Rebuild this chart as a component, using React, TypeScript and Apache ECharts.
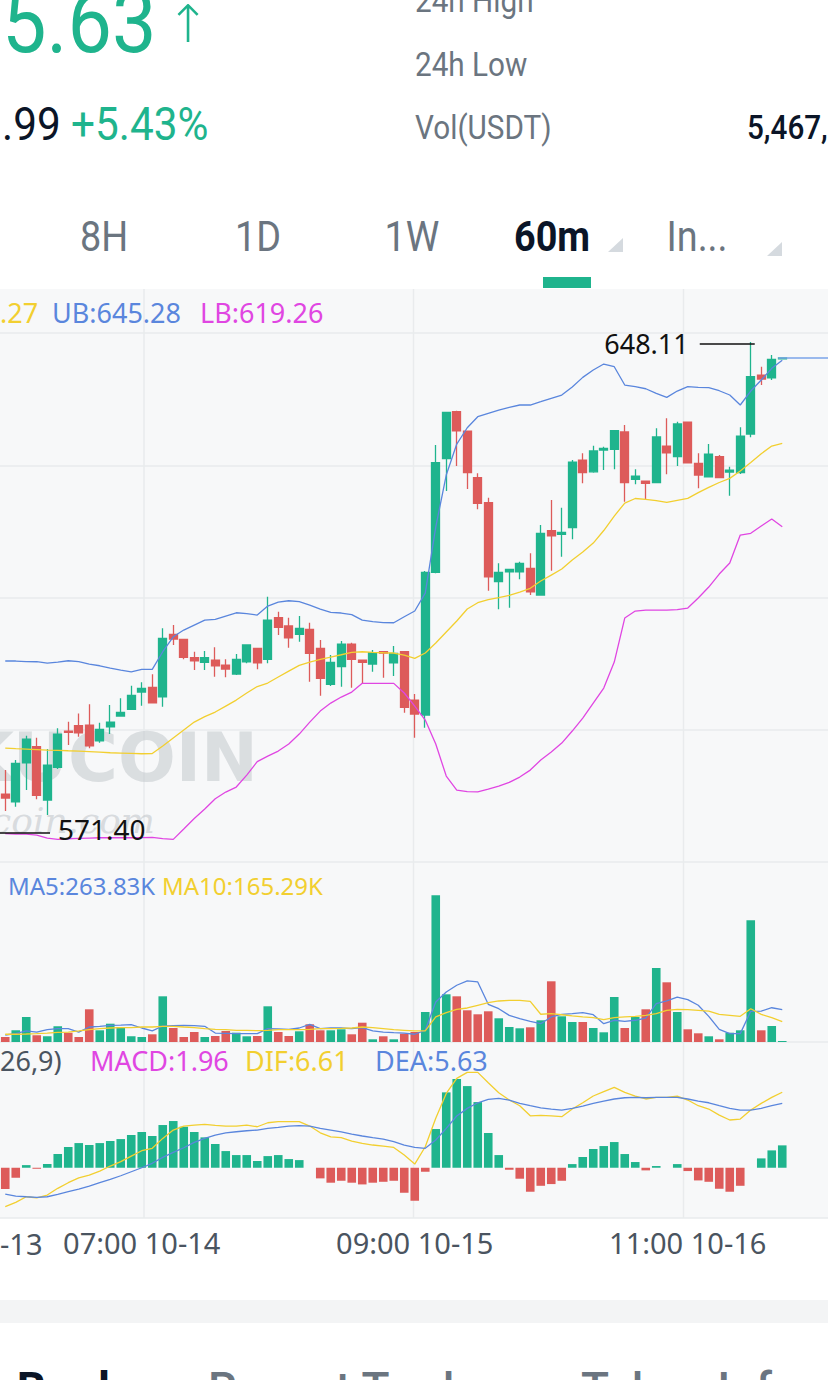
import React, { useEffect, useRef } from "react";
import * as echarts from "echarts";

// ---------- data ----------
const START_HOUR = 18; // first visible candle: 18:00 10-13
const START_DAY = 13;
const SLOT_COUNT = 79; // candle slots across the visible width
const TICK_INDEXES = [13, 39, 65];

const OPEN = [577.49, 576.28, 582.38, 584.88, 576.55, 581.66, 587.33, 588.16, 588.27, 585.81, 588.0, 589.67, 590.72, 593.42, 594.16, 592.69, 602.44, 601.66, 598.78, 598.06, 598.42, 597.64, 596.24, 598.16, 600.25, 598.53, 605.06, 603.74, 602.44, 603.22, 600.25, 594.63, 597.38, 600.92, 598.42, 597.8, 599.72, 598.0, 599.72, 592.17, 589.83, 612.13, 629.91, 637.22, 634.2, 626.91, 623.0, 610.66, 612.22, 612.22, 612.75, 608.58, 618.63, 618.06, 619.13, 629.67, 627.83, 631.24, 631.34, 634.05, 626.66, 626.39, 626.13, 631.86, 630.19, 635.61, 629.16, 627.06, 630.19, 627.8, 627.69, 633.74, 642.95, 642.53, 645.5];
const CLOSE = [576.86, 582.28, 586.08, 577.28, 582.02, 586.86, 587.13, 587.06, 585.03, 587.59, 588.73, 590.25, 592.91, 594.0, 591.75, 601.81, 601.7, 598.84, 598.31, 598.78, 597.53, 597.02, 598.53, 600.77, 598.0, 604.67, 603.53, 601.91, 603.38, 599.47, 595.56, 598.06, 600.92, 598.53, 598.06, 599.56, 599.52, 599.47, 591.03, 589.99, 612.13, 629.25, 637.13, 634.25, 627.69, 622.91, 611.44, 612.13, 612.59, 613.53, 609.09, 618.22, 617.84, 618.38, 629.36, 627.69, 631.08, 631.5, 634.25, 626.13, 627.17, 626.03, 633.27, 630.81, 635.3, 629.25, 627.33, 630.61, 626.91, 628.1, 633.42, 642.69, 642.33, 645.4, 645.63];
const LOW = [574.83, 575.5, 578.11, 576.66, 574.2, 581.39, 585.14, 586.44, 584.63, 585.5, 586.86, 589.56, 590.61, 591.28, 591.75, 591.13, 600.77, 598.53, 596.86, 596.86, 595.81, 595.72, 596.08, 597.91, 596.97, 597.91, 602.33, 600.34, 601.28, 595.03, 592.84, 594.36, 594.25, 594.09, 594.78, 596.59, 595.66, 595.92, 590.19, 586.28, 587.84, 611.97, 624.83, 628.74, 625.14, 621.97, 609.25, 606.34, 606.59, 611.03, 608.58, 608.58, 612.38, 614.56, 617.28, 626.03, 627.69, 628.11, 628.22, 623.16, 625.88, 623.53, 626.13, 627.44, 628.74, 629.25, 625.25, 627.06, 626.91, 624.09, 627.49, 633.22, 641.39, 642.17, 645.45];
const HIGH = [581.24, 582.8, 586.59, 586.28, 584.52, 587.75, 588.78, 590.09, 591.5, 588.63, 591.39, 592.44, 594.41, 594.94, 596.19, 603.38, 603.89, 601.66, 599.72, 599.83, 600.41, 598.53, 599.36, 600.77, 600.25, 608.31, 605.97, 605.03, 605.3, 604.25, 601.55, 599.2, 601.39, 601.13, 598.42, 599.99, 599.72, 600.61, 599.83, 593.11, 612.33, 632.02, 637.13, 637.38, 634.2, 627.59, 623.78, 613.53, 612.59, 613.78, 615.09, 619.52, 623.42, 622.22, 629.67, 630.72, 631.91, 631.75, 634.36, 635.14, 628.22, 626.39, 634.63, 636.19, 635.66, 635.61, 630.72, 632.17, 630.45, 628.63, 634.78, 648.11, 644.25, 646.08, 645.7];

const BOLL_UB = [598.27, 598.27, 598.19, 598.16, 597.95, 598.11, 598.31, 598.19, 597.8, 597.53, 597.17, 596.86, 596.59, 596.97, 596.97, 599.72, 602.06, 603.11, 603.89, 604.67, 604.78, 605.3, 605.81, 605.69, 605.45, 606.86, 607.48, 607.69, 607.56, 607.02, 606.39, 605.88, 605.77, 605.53, 604.67, 604.44, 604.28, 604.25, 605.19, 606.08, 608.89, 619.2, 627.33, 632.17, 634.72, 636.44, 636.97, 637.48, 637.91, 638.27, 638.27, 638.78, 639.31, 639.83, 641.08, 642.59, 643.74, 644.67, 644.25, 641.39, 641.13, 640.81, 640.09, 639.47, 640.45, 641.13, 641.03, 640.97, 640.5, 639.83, 638.27, 640.45, 642.17, 644.0, 645.28];
const BOLL_MB = [584.67, 584.59, 584.52, 584.44, 584.36, 584.31, 584.25, 584.2, 584.13, 584.05, 583.94, 583.89, 583.84, 583.78, 583.81, 584.98, 586.23, 587.48, 588.73, 589.59, 590.3, 591.23, 592.17, 593.27, 594.28, 594.83, 595.77, 596.7, 597.59, 598.11, 598.53, 598.89, 599.25, 599.63, 599.72, 599.63, 599.56, 599.52, 599.2, 598.69, 599.52, 601.08, 602.8, 604.52, 606.39, 607.38, 607.88, 608.19, 608.53, 609.05, 609.63, 610.77, 611.7, 612.64, 614.05, 615.3, 616.7, 618.66, 620.92, 622.95, 623.66, 623.53, 623.34, 623.06, 623.38, 623.69, 624.59, 625.41, 626.16, 626.81, 627.95, 629.28, 630.66, 631.86, 632.27];
const BOLL_LB = [571.31, 571.23, 571.23, 571.08, 570.61, 570.41, 570.5, 570.56, 570.61, 570.66, 570.66, 570.66, 570.66, 570.69, 570.72, 570.53, 570.41, 572.02, 573.66, 575.14, 576.75, 577.8, 578.58, 580.45, 582.56, 583.42, 584.2, 585.3, 586.86, 588.73, 590.45, 591.7, 592.64, 593.42, 594.78, 594.78, 594.78, 594.78, 593.27, 591.23, 589.05, 585.3, 580.3, 578.11, 577.88, 577.84, 578.27, 578.73, 579.31, 580.14, 581.23, 582.8, 584.05, 585.45, 587.33, 589.36, 591.7, 594.05, 598.11, 604.98, 606.08, 606.23, 606.23, 606.23, 606.31, 606.55, 608.11, 609.83, 611.86, 613.58, 617.95, 618.22, 619.36, 620.45, 619.26];

// volume in thousands (K)
const VOLUME_K = [40.7, 95.3, 203.6, 54.6, 46.4, 127.8, 75.7, 40.7, 266.3, 95.3, 149.0, 122.1, 46.4, 40.7, 62.7, 372.1, 114.0, 40.7, 81.4, 40.7, 48.9, 89.6, 75.7, 46.4, 48.9, 290.7, 81.4, 48.9, 87.1, 144.1, 95.3, 95.3, 103.4, 62.7, 157.2, 22.0, 46.4, 22.0, 67.6, 81.4, 244.3, 1194.6, 388.4, 372.1, 258.1, 225.6, 250.0, 193.0, 122.1, 111.6, 119.7, 176.7, 494.3, 209.3, 162.9, 162.9, 114.0, 79.0, 366.4, 114.0, 203.6, 266.3, 602.6, 486.1, 244.3, 103.4, 70.8, 46.4, 22.0, 75.7, 95.3, 991.0, 95.3, 130.3, 8.1];
const VOL_MA5 = [57, 68, 90, 81, 100, 109, 109, 81, 122, 128, 136, 138, 141, 114, 90, 130, 133, 136, 133, 128, 73, 71, 68, 68, 68, 109, 106, 103, 114, 144, 109, 114, 114, 109, 117, 90, 81, 76, 73, 63, 95, 326, 407, 462, 497, 489, 307, 271, 217, 190, 168, 149, 204, 225, 231, 239, 222, 149, 177, 168, 177, 195, 312, 334, 366, 345, 299, 209, 103, 68, 68, 250, 252, 279, 263.83];
const VOL_MA10 = [63, 63, 65, 68, 73, 79, 81, 90, 100, 109, 114, 117, 117, 122, 122, 128, 128, 122, 117, 109, 103, 100, 95, 95, 92, 95, 100, 100, 100, 103, 109, 109, 111, 114, 122, 117, 109, 100, 95, 90, 90, 204, 239, 266, 277, 299, 320, 334, 339, 339, 331, 226, 231, 222, 212, 204, 198, 182, 198, 204, 209, 217, 231, 258, 266, 263, 258, 252, 225, 217, 209, 271, 225, 198, 165.29];

const MACD_HIST = [-1.87, -0.88, 0.23, -0.09, 0.32, 1.2, 1.81, 2.16, 1.99, 2.16, 2.34, 2.51, 2.86, 3.13, 2.78, 3.74, 4.09, 3.59, 3.13, 2.66, 2.08, 1.46, 1.11, 1.11, 0.58, 1.02, 1.11, 0.76, 0.67, 0, -0.93, -1.31, -1.14, -1.31, -1.46, -1.31, -1.23, -1.14, -2.19, -2.89, -0.35, 3.39, 6.6, 7.77, 7.15, 5.75, 3.04, 1.11, -0.18, -0.96, -2.1, -1.58, -1.43, -1.14, 0.32, 0.94, 1.64, 1.9, 2.25, 1.2, 0.5, -0.23, 0.15, 0, 0.32, -0.29, -1.11, -1.23, -1.84, -2.1, -1.58, 0, 0.82, 1.52, 1.96];
const DIF = [-3.41, -3.03, -2.54, -2.63, -2.39, -1.8, -1.31, -0.88, -0.64, -0.29, 0.15, 0.53, 1.02, 1.49, 1.7, 2.57, 3.3, 3.65, 3.74, 3.8, 3.71, 3.65, 3.65, 3.74, 3.59, 3.94, 4.03, 4.03, 4.03, 3.65, 3.06, 2.71, 2.63, 2.34, 2.14, 1.99, 1.9, 1.78, 1.11, 0.32, 1.84, 4.33, 6.51, 7.83, 8.35, 8.35, 7.44, 6.57, 5.93, 5.43, 4.55, 4.58, 4.55, 4.47, 5.14, 5.69, 6.28, 6.66, 7.04, 6.6, 6.28, 6.02, 6.16, 6.16, 6.28, 5.93, 5.43, 5.14, 4.61, 4.18, 4.26, 5.05, 5.64, 6.16, 6.61];
const DEA = [-2.3, -2.48, -2.54, -2.59, -2.54, -2.33, -2.1, -1.87, -1.61, -1.31, -1.02, -0.7, -0.35, 0.0, 0.39, 0.91, 1.35, 1.75, 2.22, 2.57, 2.86, 3.06, 3.15, 3.24, 3.3, 3.45, 3.54, 3.65, 3.68, 3.65, 3.45, 3.3, 3.15, 2.95, 2.78, 2.63, 2.51, 2.28, 1.99, 1.78, 1.7, 2.43, 3.45, 4.53, 5.2, 5.69, 5.99, 6.08, 5.93, 5.64, 5.43, 5.25, 5.14, 5.05, 5.2, 5.4, 5.64, 5.84, 6.02, 6.13, 6.16, 6.13, 6.16, 6.16, 6.16, 6.02, 5.84, 5.69, 5.43, 5.2, 5.05, 5.05, 5.2, 5.43, 5.63];

const LOW_MARK = 571.4;
const LAST_PRICE = 645.63;
const PRICE_MIN = 566.87;
const PRICE_MAX = 649.52;
const VOL_MAX_K = 1465.7;
const MACD_MIN = -4.4;
const MACD_MAX = 11.01;

// ---------- styles ----------
const GREEN = "#1fb48d";
const RED = "#dd5b5a";
const BLUE = "#5a86dd";
const YELLOW = "#f2cf30";
const MAGENTA = "#e046e2";
const GRID_LINE = "#e9ebed";
const PLOT_BG = "#f7f8f9";
const DARK = "#0b1527";
const GREY_TXT = "#6b7580";
const CHART_FONT = "'Noto Sans', 'DejaVu Sans', sans-serif";
const HEAD_FONT = "Roboto, 'Noto Sans', sans-serif";

function slotLabel(i: number): string {
  const h = START_HOUR + i;
  const hour = h % 24;
  const day = START_DAY + Math.floor(h / 24);
  return `${String(hour).padStart(2, "0")}:00 10-${String(day).padStart(2, "0")}`;
}
const CATEGORIES = Array.from({ length: SLOT_COUNT }, (_, i) => slotLabel(i));

function txt(t: string, x: number, y: number, font: string, fill: string, align = "left", extra: any = {}) {
  return {
    type: "text",
    x,
    y,
    z: 20,
    silent: true,
    ...extra,
    style: { text: t, font, fill, align, verticalAlign: "middle", textAlign: align, textVerticalAlign: "middle" },
  };
}

export default function App() {
  const ref = useRef<HTMLDivElement>(null);

  useEffect(() => {
    const el = ref.current as HTMLDivElement;
    const chart = echarts.init(el, undefined, { renderer: "svg", width: 828, height: 1380 });

    const candleData = OPEN.map((o, i) => [o, CLOSE[i], LOW[i], HIGH[i]]);
    const volData = VOLUME_K.map((v, i) => ({ value: v, itemStyle: { color: CLOSE[i] >= OPEN[i] ? GREEN : RED } }));
    const macdData = MACD_HIST.map((v) => ({ value: v, itemStyle: { color: v >= 0 ? GREEN : RED } }));

    const gridBase = { left: 0, width: 829.5, containLabel: false, outerBoundsMode: "none" };
    const xAxis = [0, 1, 2].map((gi) => ({
      type: "category",
      gridIndex: gi,
      data: CATEGORIES,
      boundaryGap: true,
      axisLine: { show: false },
      axisTick: { show: false },
      splitLine: { show: false },
      axisLabel:
        gi === 2
          ? {
              show: true,
              interval: (idx: number) => TICK_INDEXES.includes(idx),
              color: "#4a5460",
              fontSize: 29,
              fontFamily: CHART_FONT,
              margin: 24,
              verticalAlign: "middle",
            }
          : { show: false },
    }));
    const splitAxis = (gi: number, max: number) => ({
      type: "value",
      gridIndex: gi,
      min: 0,
      max,
      interval: 1,
      axisLabel: { show: false },
      axisLine: { show: false },
      axisTick: { show: false },
      splitLine: { show: true, lineStyle: { color: GRID_LINE, width: 1.5 } },
    });
    const lineS = (data: number[], color: string, xi: number, yi: number) => ({
      type: "line",
      data,
      xAxisIndex: xi,
      yAxisIndex: yi,
      symbol: "none",
      showSymbol: false,
      lineStyle: { color, width: 1.3 },
      itemStyle: { color },
      silent: true,
      z: 3,
    });

    chart.setOption({
      animation: false,
      backgroundColor: "#ffffff",
      grid: [
        { ...gridBase, top: 333, height: 529 },
        { ...gridBase, top: 862, height: 180 },
        { ...gridBase, top: 1042, height: 176 },
      ],
      xAxis,
      yAxis: [
        { type: "value", gridIndex: 0, min: PRICE_MIN, max: PRICE_MAX, show: false },
        { type: "value", gridIndex: 1, min: 0, max: VOL_MAX_K, show: false },
        { type: "value", gridIndex: 2, min: MACD_MIN, max: MACD_MAX, show: false },
        splitAxis(0, 4),
        splitAxis(2, 1),
      ],
      series: [
        {
          type: "candlestick",
          xAxisIndex: 0,
          yAxisIndex: 0,
          data: candleData,
          barWidth: 8.6,
          silent: true,
          z: 2,
          itemStyle: { color: GREEN, color0: RED, borderColor: GREEN, borderColor0: RED, borderWidth: 1.3 },
        },
        lineS(BOLL_UB, BLUE, 0, 0),
        lineS(BOLL_MB, YELLOW, 0, 0),
        lineS(BOLL_LB, MAGENTA, 0, 0),
        { type: "bar", xAxisIndex: 1, yAxisIndex: 1, data: volData, barWidth: 8.6, silent: true, z: 2 },
        lineS(VOL_MA5, BLUE, 1, 1),
        lineS(VOL_MA10, YELLOW, 1, 1),
        { type: "bar", xAxisIndex: 2, yAxisIndex: 2, data: macdData, barWidth: 8.6, silent: true, z: 2 },
        lineS(DIF, YELLOW, 2, 2),
        lineS(DEA, BLUE, 2, 2),
      ],
    });

    const last = OPEN.length - 1;
    const hiVal = Math.max(...HIGH);
    const hiIdx = HIGH.indexOf(hiVal);
    const hp = chart.convertToPixel({ gridIndex: 0 }, [hiIdx, hiVal]) as number[];
    const lp = chart.convertToPixel({ gridIndex: 0 }, [0, LOW_MARK]) as number[];
    const pp = chart.convertToPixel({ gridIndex: 0 }, [last, LAST_PRICE]) as number[];

    const g: any[] = [];
    // backgrounds
    g.push({ type: "rect", z: -10, silent: true, shape: { x: 0, y: 289, width: 828, height: 929 }, style: { fill: PLOT_BG } });
    g.push({ type: "rect", z: -10, silent: true, shape: { x: 0, y: 1300, width: 828, height: 23 }, style: { fill: "#f3f4f5" } });
    // vertical grid lines
    [144, 413.5, 683.5].forEach((x) =>
      g.push({ type: "line", z: -5, silent: true, shape: { x1: x, y1: 289, x2: x, y2: 1218 }, style: { stroke: GRID_LINE, lineWidth: 1.5 } })
    );
    // watermark
    g.push({
      type: "text", z: 1, silent: true, x: 258, y: 757,
      style: { text: "KUCOIN", font: `bold 68px 'DejaVu Sans'`, fill: "rgba(190,195,200,0.5)", align: "right", verticalAlign: "middle", textAlign: "right", textVerticalAlign: "middle" },
    });
    g.push({
      type: "text", z: 1, silent: true, x: 155, y: 820,
      style: { text: "kucoin.com", font: `italic 36px 'DejaVu Serif'`, fill: "rgba(185,190,196,0.5)", align: "right", verticalAlign: "middle", textAlign: "right", textVerticalAlign: "middle" },
    });

    // header
    g.push(txt("5.63", 2, 22, `400 88px ${HEAD_FONT}`, GREEN, "left", { scaleX: 0.9 }));
    g.push(txt("↑", 188, 24, `300 52px 'DejaVu Sans'`, GREEN, "center"));
    g.push(txt(".99", 2, 124, `400 47px ${HEAD_FONT}`, DARK, "left", { scaleX: 0.9 }));
    g.push(txt("+5.43%", 71, 124, `400 47px ${HEAD_FONT}`, GREEN, "left", { scaleX: 0.9 }));
    g.push(txt("24h High", 415, 1, `400 33px ${HEAD_FONT}`, GREY_TXT, "left", { scaleX: 0.9 }));
    g.push(txt("24h Low", 415, 65, `400 33px ${HEAD_FONT}`, GREY_TXT, "left", { scaleX: 0.9 }));
    g.push(txt("Vol(USDT)", 415, 128, `400 33px ${HEAD_FONT}`, GREY_TXT, "left", { scaleX: 0.9 }));
    g.push(txt("5,467,", 747, 128, `500 33px ${HEAD_FONT}`, DARK, "left", { scaleX: 0.9 }));
    // tabs
    g.push(txt("8H", 104, 237, `400 42px ${HEAD_FONT}`, GREY_TXT, "center", { scaleX: 0.9 }));
    g.push(txt("1D", 258, 237, `400 42px ${HEAD_FONT}`, GREY_TXT, "center", { scaleX: 0.9 }));
    g.push(txt("1W", 412, 237, `400 42px ${HEAD_FONT}`, GREY_TXT, "center", { scaleX: 0.9 }));
    g.push(txt("60m", 552, 237, `700 42px ${HEAD_FONT}`, DARK, "center", { scaleX: 0.9 }));
    g.push(txt("In...", 697, 237, `400 42px ${HEAD_FONT}`, GREY_TXT, "center", { scaleX: 0.9 }));
    g.push({ type: "polygon", z: 5, silent: true, shape: { points: [[623, 238], [623, 252], [608, 252]] }, style: { fill: "#d5dadf" } });
    g.push({ type: "polygon", z: 5, silent: true, shape: { points: [[782, 242], [782, 256], [767, 256]] }, style: { fill: "#d5dadf" } });
    g.push({ type: "rect", z: 5, silent: true, shape: { x: 543, y: 277, width: 48, height: 11 }, style: { fill: GREEN } });

    // indicator legends
    const f27 = `27px ${CHART_FONT}`;
    g.push(txt(BOLL_MB[last].toFixed(2).slice(-3), 0, 312, f27, YELLOW));
    g.push(txt(`UB:${BOLL_UB[last].toFixed(2)}`, 52, 312, f27, BLUE));
    g.push(txt(`LB:${BOLL_LB[last].toFixed(2)}`, 200, 312, f27, MAGENTA));
    const f24 = `24px ${CHART_FONT}`;
    g.push(txt(`MA5:${VOL_MA5[last].toFixed(2)}K`, 8, 885, f24, BLUE));
    g.push(txt(`MA10:${VOL_MA10[last].toFixed(2)}K`, 162, 885, f24, YELLOW));
    g.push(txt("26,9)", 0, 1060, f27, "#4a5460"));
    g.push(txt(`MACD:${MACD_HIST[last].toFixed(2)}`, 90, 1060, f27, MAGENTA));
    g.push(txt(`DIF:${DIF[last].toFixed(2)}`, 245, 1060, f27, YELLOW));
    g.push(txt(`DEA:${DEA[last].toFixed(2)}`, 375, 1060, f27, BLUE));
    // partially visible first time label
    g.push(txt("-13", 0, 1243, `29px ${CHART_FONT}`, "#4a5460"));

    // high / low markers
    g.push({ type: "line", z: 15, silent: true, shape: { x1: hp[0] - 51, y1: hp[1] + 2, x2: hp[0] + 4, y2: hp[1] + 2 }, style: { stroke: "#111", lineWidth: 1.5 } });
    g.push(txt(hiVal.toFixed(2), hp[0] - 62, hp[1] + 1, `27px ${CHART_FONT}`, "#111", "right"));
    g.push({ type: "line", z: 15, silent: true, shape: { x1: 0, y1: lp[1], x2: 50, y2: lp[1] }, style: { stroke: "#111", lineWidth: 1.5 } });
    g.push(txt(LOW_MARK.toFixed(2), 58, lp[1] - 4, `28px ${CHART_FONT}`, "#111", "left"));
    // last price line
    g.push({ type: "line", z: 15, silent: true, shape: { x1: pp[0] - 4, y1: pp[1], x2: 828, y2: pp[1] }, style: { stroke: "#7ba5e8", lineWidth: 1.5 } });

    // bottom tabs (cut off)
    g.push(txt("rBook", 0, 1389, `700 46px ${HEAD_FONT}`, DARK, "left"));
    g.push(txt("Recent Trades", 208, 1389, `500 46px ${HEAD_FONT}`, GREY_TXT, "left"));
    g.push(txt("Token Info", 581, 1389, `500 46px ${HEAD_FONT}`, GREY_TXT, "left"));

    chart.setOption({ graphic: { elements: g } });

    return () => chart.dispose();
  }, []);

  return (
    <div
      ref={ref}
      style={{ position: "absolute", left: 0, top: 0, width: 828, height: 1380, background: "#ffffff", overflow: "hidden" }}
    />
  );
}
